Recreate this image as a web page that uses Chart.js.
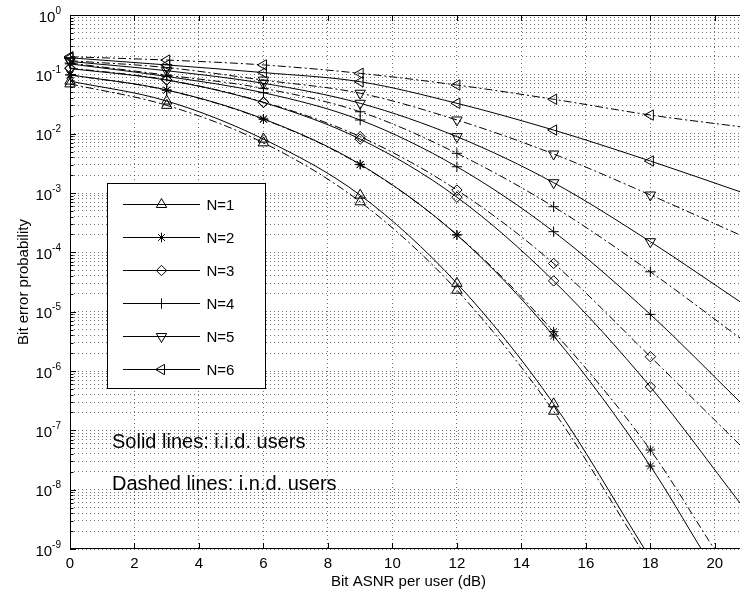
<!DOCTYPE html>
<html>
<head>
<meta charset="utf-8">
<script src="https://cdn.jsdelivr.net/npm/chart.js@4.4.1/dist/chart.umd.min.js"></script>
<style>
  html, body { margin: 0; padding: 0; background: #fff; overflow: hidden; }
  #wrap { position: relative; width: 740px; height: 592px; }
</style>
</head>
<body>
<div id="wrap"><canvas id="berChart"></canvas></div>
<script>
// SNR points where markers sit (dB)
var snr = [0, 3, 6, 9, 12, 15, 18];
var xTicks = [0, 2, 4, 6, 8, 10, 12, 14, 16, 18, 20];
var yExponents = [0, -1, -2, -3, -4, -5, -6, -7, -8, -9];
var yMinorSteps = [2, 3, 4, 5, 6, 7, 8, 9];
var userCounts = ['N=1', 'N=2', 'N=3', 'N=4', 'N=5', 'N=6'];

// solid lines: i.i.d. users
var iidN1 = [0.077, 0.0355, 0.0081, 9.2e-4, 3.0e-5, 2.8e-7];
var iidN2 = [0.098, 0.0545, 0.0177, 3.04e-3, 1.96e-4, 3.9e-6, 2.5e-8];
var iidN3 = [0.125, 0.080, 0.0335, 8.1e-3, 8.5e-4, 3.3e-5, 5.4e-7];
var iidN4 = [0.15, 0.092, 0.049, 0.017, 2.77e-3, 2.23e-4, 9.0e-6];
var iidN5 = [0.165, 0.115, 0.0706, 0.0325, 8.9e-3, 1.49e-3, 1.51e-4];
var iidN6 = [0.19, 0.144, 0.107, 0.075, 0.0325, 0.0115, 3.46e-3];
var iidTailX = [17.82, 19.58, 20.78, 20.78, 20.78, 20.78];
var iidTailY = [1e-9, 1e-9, 5.96e-9, 3.0e-7, 1.47e-5, 1.05e-3];

// dashed lines: i.n.d. users
var indN1 = [0.069, 0.030, 0.0070, 7.1e-4, 2.3e-5, 2.1e-7];
var indN2 = [0.098, 0.054, 0.0175, 3.0e-3, 1.98e-4, 4.6e-6, 4.66e-8];
var indN3 = [0.128, 0.081, 0.034, 8.9e-3, 1.12e-3, 6.5e-5, 1.74e-6];
var indN4 = [0.155, 0.097, 0.058, 0.0234, 4.66e-3, 5.87e-4, 4.7e-5];
var indN5 = [0.17, 0.13, 0.080, 0.048, 0.017, 4.54e-3, 9.25e-4];
var indN6 = [0.198, 0.174, 0.144, 0.104, 0.066, 0.038, 0.0206];
var indTailX = [17.71, 19.98, 20.78, 20.78, 20.78, 20.78];
var indTailY = [1e-9, 1e-9, 5.65e-8, 3.6e-6, 1.96e-4, 0.0131];

var markerStyles = ['triangle', 'star', 'rectRot', 'cross', 'triangle', 'triangle'];
var markerTurns = [0, 0, 0, 0, 180, -90];
var markerSizes = [6, 4.8, 5.2, 5.2, 6, 6];

var FONT = '"Liberation Sans", Arial, Helvetica, sans-serif';

var buildPoints = function(values, tailX, tailY){
    var pts = [];
    for (var i = 0; i < values.length; i++) {
        pts.push({x: snr[i], y: values[i]});
    }
    pts.push({x: tailX, y: tailY});
    return pts;
}

var makeDataset = function(label, points, n, dash){
    return {
        label: label,
        data: points,
        borderColor: '#000',
        borderWidth: 1,
        borderDash: dash,
        pointStyle: markerStyles[n],
        pointRotation: markerTurns[n],
        pointRadius: function(c){
            var r = c.raw;
            return (r && r.x % 3 === 0) ? markerSizes[n] : 0;
        },
        pointBorderColor: '#000',
        pointBackgroundColor: 'rgba(0,0,0,0)',
        pointBorderWidth: 1,
        cubicInterpolationMode: 'monotone',
        clip: {left: 8, top: 0, right: 0, bottom: 0}
    };
}

var solidSeries = [iidN1, iidN2, iidN3, iidN4, iidN5, iidN6];
var dashedSeries = [indN1, indN2, indN3, indN4, indN5, indN6];

var datasets = [];
for (var i = 0; i < solidSeries.length; i++) {
    datasets.push(makeDataset(userCounts[i], buildPoints(solidSeries[i], iidTailX[i], iidTailY[i]), i, []));
}
for (var i = 0; i < dashedSeries.length; i++) {
    datasets.push(makeDataset(userCounts[i] + ' i.n.d.', buildPoints(dashedSeries[i], indTailX[i], indTailY[i]), i, [8, 3, 2, 3]));
}

// axes box, inward ticks, tick labels, legend and notes
var matlabFrame = {
    id: 'matlabFrame',
    afterDraw: function(chart){
        var ctx = chart.ctx;
        var area = chart.chartArea;
        var xs = chart.scales.x;
        var ys = chart.scales.y;
        ctx.save();
        ctx.strokeStyle = '#000';
        ctx.fillStyle = '#000';
        ctx.lineWidth = 1;
        ctx.setLineDash([]);

        ctx.beginPath();
        ctx.moveTo(area.right, area.top + 0.5);
        ctx.lineTo(area.left + 0.5, area.top + 0.5);
        ctx.lineTo(area.left + 0.5, area.bottom - 0.5);
        ctx.lineTo(area.right, area.bottom - 0.5);
        ctx.stroke();

        ctx.beginPath();
        xs.ticks.forEach(function(t){
            var px = Math.round(xs.getPixelForValue(t.value)) + 0.5;
            ctx.moveTo(px, area.bottom);
            ctx.lineTo(px, area.bottom - 6);
            ctx.moveTo(px, area.top);
            ctx.lineTo(px, area.top + 6);
        });
        ys.ticks.forEach(function(t){
            var py = Math.round(ys.getPixelForValue(t.value)) + 0.5;
            ctx.moveTo(area.left, py);
            ctx.lineTo(area.left + (t.major ? 6 : 3.5), py);
        });
        ctx.stroke();

        ctx.font = '15px ' + FONT;
        ctx.textAlign = 'center';
        ctx.textBaseline = 'alphabetic';
        xs.ticks.forEach(function(t){
            ctx.fillText(String(t.value), xs.getPixelForValue(t.value), 568);
        });

        ctx.textAlign = 'left';
        ys.ticks.forEach(function(t){
            if (!t.major) return;
            var py = ys.getPixelForValue(t.value);
            var sup = String(t.exp);
            ctx.font = '10px ' + FONT;
            var ws = ctx.measureText(sup).width;
            ctx.font = '15px ' + FONT;
            var wb = ctx.measureText('10').width;
            var right = area.left - 9;
            ctx.fillText('10', right - ws - wb, py + 6.5);
            ctx.font = '10px ' + FONT;
            ctx.fillText(sup, right - ws, py - 1.5);
        });

        ctx.font = '15px ' + FONT;
        ctx.textAlign = 'center';
        ctx.fillText('Bit ASNR per user (dB)', xs.getPixelForValue(10.5), 586);

        ctx.save();
        ctx.translate(28, (area.top + area.bottom) / 2);
        ctx.rotate(-Math.PI / 2);
        ctx.fillText('Bit error probability', 0, 0);
        ctx.restore();

        // legend
        var bx = 107.5, by = 183.5, bw = 158, bh = 205;
        ctx.fillStyle = '#fff';
        ctx.fillRect(bx, by, bw, bh);
        ctx.strokeRect(bx, by, bw, bh);
        ctx.fillStyle = '#000';
        ctx.font = '15px ' + FONT;
        ctx.textAlign = 'left';
        ctx.textBaseline = 'middle';
        for (var k = 0; k < userCounts.length; k++) {
            var ds = chart.data.datasets[k];
            var ry = Math.round(203.5 + k * 33.1) + 0.5;
            ctx.beginPath();
            ctx.moveTo(123, ry);
            ctx.lineTo(200, ry);
            ctx.stroke();
            ctx.fillStyle = 'rgba(0,0,0,0)';
            Chart.helpers.drawPoint(ctx, {
                pointStyle: ds.pointStyle,
                rotation: ds.pointRotation,
                radius: markerSizes[k],
                borderWidth: 1
            }, 161.5, ry);
            ctx.fillStyle = '#000';
            ctx.fillText(ds.label, 206.5, ry + 1);
        }

        ctx.textBaseline = 'alphabetic';
        ctx.font = '20px ' + FONT;
        ctx.fillText('Solid lines: i.i.d. users', 112, 448);
        ctx.fillText('Dashed lines: i.n.d. users', 112, 490);
        ctx.restore();
    }
};

var gridDots = 'rgba(0,0,0,0.55)';

const config = {
    type: 'line',
    data: { datasets: datasets },
    options: {
        responsive: true,
        maintainAspectRatio: false,
        animation: false,
        events: [],
        layout: { autoPadding: false, padding: { left: 70, top: 15, right: 0, bottom: 43 } },
        plugins: {
            legend: { display: false },
            tooltip: { enabled: false }
        },
        scales: {
            x: {
                type: 'linear',
                min: 0,
                max: 20.78,
                afterBuildTicks: function(scale){
                    scale.ticks = xTicks.map(function(v){ return {value: v}; });
                },
                ticks: { display: false },
                grid: { color: gridDots, lineWidth: 1, drawTicks: false },
                border: { display: false, dash: [1, 3] }
            },
            y: {
                type: 'logarithmic',
                min: 1e-9,
                max: 1,
                afterBuildTicks: function(scale){
                    var ticks = [];
                    yExponents.forEach(function(e){
                        ticks.push({value: Math.pow(10, e), major: true, exp: e});
                        if (e < 0) {
                            yMinorSteps.forEach(function(m){
                                ticks.push({value: m * Math.pow(10, e), major: false});
                            });
                        }
                    });
                    scale.ticks = ticks;
                },
                ticks: { display: false },
                grid: { color: gridDots, lineWidth: 1, drawTicks: false },
                border: { display: false, dash: [1, 3] }
            }
        }
    },
    plugins: [matlabFrame]
};

const berChart = new Chart(
    document.getElementById('berChart'),
    config
);
</script>
</body>
</html>
